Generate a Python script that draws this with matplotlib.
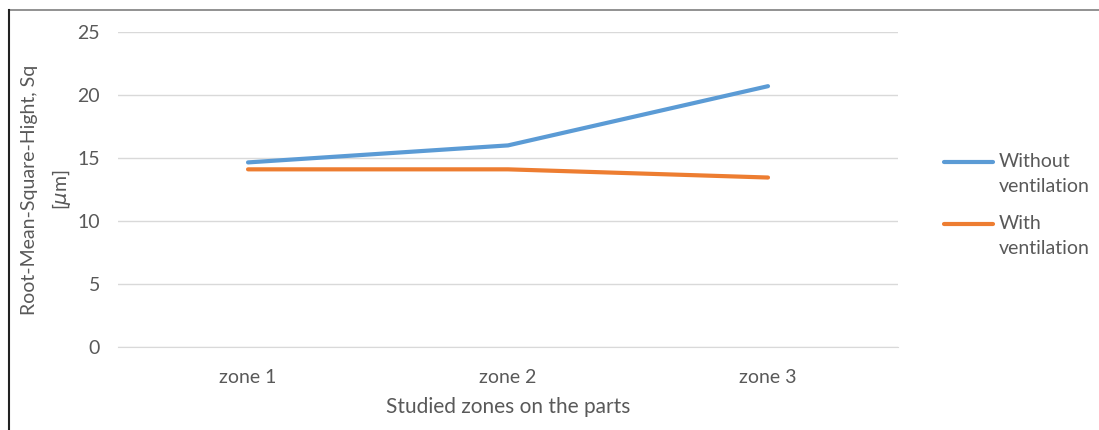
import matplotlib
matplotlib.use('Agg')
import numpy as np
import matplotlib.pyplot as plt
from matplotlib.lines import Line2D
from matplotlib.legend_handler import HandlerLine2D

zones = ['zone 1', 'zone 2', 'zone 3']
sq_without = [14.65, 16.0, 20.7]   # µm
sq_with = [14.1, 14.1, 13.45]      # µm
series_names = ['Without\nventilation', 'With\nventilation']
yticks = [0, 5, 10, 15, 20, 25]

text_grey = '#595959'
plt.rcParams.update({
    'font.family': ['Lato', 'DejaVu Sans'],
    'font.size': 14,
    'text.color': text_grey,
    'axes.labelcolor': text_grey,
    'xtick.color': text_grey,
    'ytick.color': text_grey,
})


class FirstLineHandler(HandlerLine2D):
    """Legend line drawn level with the first line of a two-line label."""
    shift = 9.0

    def create_artists(self, legend, orig_handle, xdescent, ydescent,
                       width, height, fontsize, trans):
        artists = super().create_artists(legend, orig_handle, xdescent,
                                         ydescent, width, height,
                                         fontsize, trans)
        for a in artists:
            a.set_ydata(np.asarray(a.get_ydata()) + self.shift)
        return artists


fig = plt.figure(figsize=(10.99, 4.30), dpi=100)
ax = fig.add_axes([0.1074, 0.193, 0.7097, 0.7326])

x = range(len(zones))
ax.plot(x, sq_without, color='#5b9bd5', lw=3.0, solid_capstyle='round',
        label=series_names[0])
ax.plot(x, sq_with, color='#ed7d31', lw=3.0, solid_capstyle='round',
        label=series_names[1])

ax.set_xlim(-0.5, len(zones) - 0.5)
ax.set_ylim(0, 25)
ax.set_xticks(list(x))
ax.set_xticklabels(zones)
ax.set_yticks(yticks)
ax.yaxis.grid(True, color='#d9d9d9', lw=1.0)
ax.set_axisbelow(True)
for side in ('top', 'right', 'left'):
    ax.spines[side].set_visible(False)
ax.spines['bottom'].set_color('#d9d9d9')
ax.tick_params(axis='both', length=0, labelsize=14)
ax.tick_params(axis='x', pad=16)
ax.tick_params(axis='y', pad=13)

ax.set_xlabel('Studied zones on the parts', fontsize=15, labelpad=8)
ax.set_ylabel('Root-Mean-Square-Hight, Sq\n[$\\mu$m]', fontsize=14,
              labelpad=3, linespacing=1.7)

leg = ax.legend(loc='center left', bbox_to_anchor=(1.059, 0.45),
                frameon=False, borderaxespad=0, borderpad=0,
                handlelength=2.5, handletextpad=0.3, labelspacing=1.05,
                fontsize=14, handler_map={Line2D: FirstLineHandler()})
for t in leg.get_texts():
    t.set_linespacing(1.55)

# thin frame lines along the top and left edge
fig.add_artist(Line2D([9 / 1099, 1], [1 - 10 / 430, 1 - 10 / 430],
                      color='#7f7f7f', lw=1.2, transform=fig.transFigure))
fig.add_artist(Line2D([9 / 1099, 9 / 1099], [0, 1 - 10 / 430],
                      color='#222222', lw=1.5, transform=fig.transFigure))

fig.savefig('out.png', dpi=100)
